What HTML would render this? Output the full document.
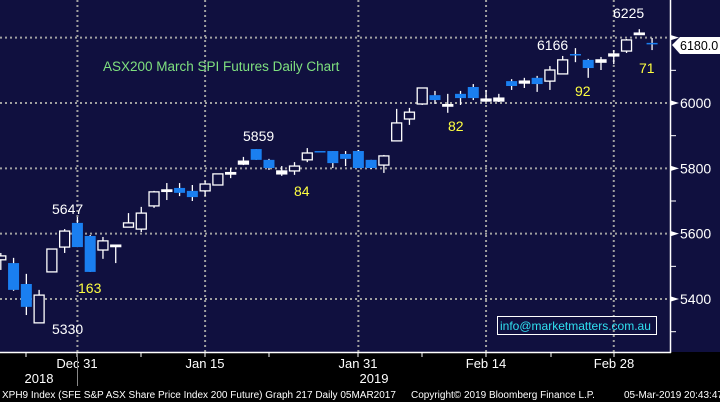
<!DOCTYPE html>
<html><head><meta charset="utf-8"><style>
html,body{margin:0;padding:0;background:#000;}
svg{display:block;font-family:"Liberation Sans",sans-serif;}
</style></head><body>
<svg id="chart" width="720" height="402" viewBox="0 0 720 402" xmlns="http://www.w3.org/2000/svg">
<rect x="0" y="0" width="720" height="352" fill="#10103f"/>
<rect x="0" y="352" width="720" height="50" fill="#000"/>
<g id="grid"></g>
<g id="candles"></g>
<g id="axis"></g>
<text x="103" y="71" fill="#7fe07f" font-size="13.5">ASX200 March SPI Futures Daily Chart</text>
<g font-size="14">
<text x="52" y="214" fill="#fff">5647</text>
<text x="52" y="334" fill="#fff">5330</text>
<text x="78" y="293" fill="#ffff40">163</text>
<text x="243" y="141" fill="#fff">5859</text>
<text x="294" y="196" fill="#ffff40">84</text>
<text x="448" y="131" fill="#ffff40">82</text>
<text x="537" y="50" fill="#fff">6166</text>
<text x="575" y="96" fill="#ffff40">92</text>
<text x="613" y="18" fill="#fff">6225</text>
<text x="639" y="73" fill="#ffff40">71</text>
</g>
<rect x="497.5" y="316.5" width="159" height="18" fill="none" stroke="#fff" stroke-width="1"/>
<text x="500" y="330" fill="#30e0f0" font-size="12">info@marketmatters.com.au</text>
<g>
<path d="M672,45 L680,37 L720,37 L720,54 L680,54 Z" fill="#fff"/>
<text x="680" y="50" fill="#000" font-size="12.5">6180.0</text>
</g>
<g font-size="13" fill="#fff">
<text x="77" y="368" text-anchor="middle">Dec 31</text>
<text x="205" y="368" text-anchor="middle">Jan 15</text>
<text x="358" y="368" text-anchor="middle">Jan 31</text>
<text x="486" y="368" text-anchor="middle">Feb 14</text>
<text x="614" y="368" text-anchor="middle">Feb 28</text>
<text x="39" y="383" text-anchor="middle">2018</text>
<text x="374" y="383" text-anchor="middle">2019</text>
</g>
<line x1="77.5" y1="353" x2="77.5" y2="386" stroke="#888"/>
<g font-size="10" fill="#fff">
<text x="2" y="398">XPH9 Index (SFE S&amp;P ASX Share Price Index 200 Future) Graph 217  Daily 05MAR2017</text>
<text x="411" y="398">Copyright© 2019 Bloomberg Finance L.P.</text>
<text x="624" y="398">05-Mar-2019 20:43:47</text>
</g>
</svg>
<script>
const opens  =[5520,5510,5446,5327,5483,5559,5633,5593,5550,5562,5620,5614,5685,5733,5740,5731,5731,5749,5786,5813,5859,5826,5783,5792,5826,5853,5853,5844,5853,5826,5810,5884,5951,5997,6024,5994,6028,6049,6006,6006,6067,6061,6077,6067,6089,6150,6132,6125,6144,6159,6213,6184];
const highs  =[5541,5526,5477,5428,5553,5614,5651,5596,5590,5565,5663,5682,5731,5755,5755,5749,5761,5783,5801,5835,5859,5829,5807,5819,5862,5853,5853,5853,5856,5826,5841,5982,5985,6046,6037,6028,6037,6058,6040,6028,6073,6077,6083,6113,6144,6168,6135,6141,6162,6196,6226,6199];
const lows   =[5489,5425,5351,5327,5483,5541,5559,5483,5523,5510,5620,5605,5679,5703,5715,5700,5715,5749,5770,5810,5826,5795,5777,5780,5819,5853,5801,5807,5801,5798,5786,5884,5933,5994,5997,5970,5994,6009,6006,6003,6040,6046,6034,6040,6089,6125,6077,6101,6119,6153,6208,6162];
const closes =[5532,5428,5376,5412,5553,5608,5559,5483,5578,5565,5633,5663,5728,5734,5725,5712,5752,5783,5787,5822,5826,5801,5792,5807,5847,5853,5816,5829,5801,5801,5838,5939,5972,6046,6009,5995,6015,6015,6012,6015,6052,6067,6058,6101,6132,6149,6107,6132,6150,6193,6214,6183];
const downFlags=[0,1,1,0,0,0,1,1,0,0,0,0,0,0,1,1,0,0,0,0,1,1,0,0,0,1,1,1,1,1,0,0,0,0,1,0,1,1,0,0,1,0,1,0,0,1,1,0,0,0,0,1];
const majorTicks=[5400,5600,5800,6000,6200];
const majorLabels=["5400","5600","5800","6000","6200"];
const minorTicks=[5300,5500,5700,5900,6100];
const dateGridIdx=[6,16,28,38,48];

const NS="http://www.w3.org/2000/svg";
function y(v){return 103+(6000-v)*0.3267;}
function x(i){return 0.8+i*12.77;}
function mk(tag,attrs,parent){const e=document.createElementNS(NS,tag);for(const k in attrs)e.setAttribute(k,attrs[k]);parent.appendChild(e);return e;}
const grid=document.getElementById('grid'),cg=document.getElementById('candles'),ax=document.getElementById('axis');
majorTicks.forEach((v,k)=>{
  const l=mk('line',{x1:0,x2:670,y1:y(v),y2:y(v),stroke:'#a0a0a0','stroke-width':2,'stroke-dasharray':'2,3'},grid);
  
  
});
dateGridIdx.forEach(i=>{
  const l=mk('line',{x1:x(i),x2:x(i),y1:0,y2:352,stroke:'#a0a0a0','stroke-width':2,'stroke-dasharray':'2,3'},grid);
  
  
});
for(let i=0;i<opens.length;i++){
  const g=mk('g',{},cg);
  
  
  const cx=x(i),down=downFlags[i];
  const col=down?'#1a7ff0':'#fff';
  mk('line',{x1:cx,x2:cx,y1:y(highs[i]),y2:y(lows[i]),stroke:'#fff','stroke-width':1.3},g);
  const top=y(Math.max(opens[i],closes[i])),bot=y(Math.min(opens[i],closes[i]));
  const h=Math.max(bot-top,1.5);
  if(down) mk('rect',{x:cx-5.5,y:top,width:11,height:h,fill:col},g);
  else mk('rect',{x:cx-5,y:top,width:10,height:h,fill:h<3?'#fff':'#10103f',stroke:'#fff','stroke-width':1.3},g);
}
mk('line',{x1:670.5,x2:670.5,y1:0,y2:353,stroke:'#fff','stroke-width':1.5},ax);
mk('line',{x1:0,x2:671,y1:352.5,y2:352.5,stroke:'#fff','stroke-width':1.5},ax);
minorTicks.forEach(v=>{mk('line',{x1:671,x2:676,y1:y(v),y2:y(v),stroke:'#fff'},ax);});
majorTicks.forEach((v,k)=>{
  mk('path',{d:`M671,${y(v)-2.5} L679,${y(v)} L671,${y(v)+2.5} Z`,fill:'#fff'},ax);
  if(v===6200) return;
  const t=mk('text',{x:680,y:y(v)+5,fill:'#fff','font-size':14},ax);
  
  
  t.textContent=majorLabels[k];
});
[26,77,141,205,269,358,422,486,551,614].forEach(px=>{mk('line',{x1:px,x2:px,y1:352,y2:357,stroke:'#fff'},ax);});
</script>
</body></html>
